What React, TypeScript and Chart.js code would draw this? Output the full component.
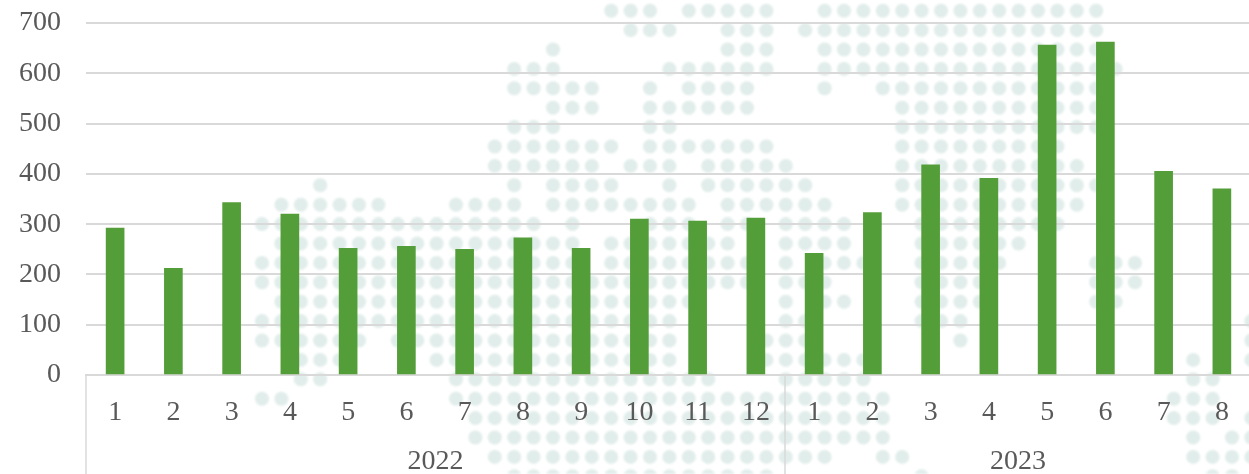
import React, { useEffect, useRef } from "react";
import { Chart, registerables } from "chart.js";

Chart.register(...registerables);

const months = ["1","2","3","4","5","6","7","8","9","10","11","12","1","2","3","4","5","6","7","8"];
const values = [292,212,343,320,252,256,250,273,252,310,306,312,242,323,418,391,656,662,405,370];
const years = ["2022","2023"];
const yearCounts = [12,8];
const yTicks = [0,100,200,300,400,500,600,700];

// Decorative dotted world map: occupied grid columns for each grid row.
const mapRows = [
  "18-20,22-26,29-43",
  "19-21,24-26,28-43",
  "15,24-26,29-43",
  "13-15,21-26,29-44",
  "13-17,20,22-25,29,32-43",
  "15-17,20-25,33-43",
  "13-15,20-21,33-43",
  "12-18,20-26,33-41",
  "12-17,19-21,23-27,33-42",
  "3,13,15-18,21,23-28,33-43",
  "1-6,10-13,15-22,24-29,33-42",
  "0-14,16,20-22,24-25,27-30,34-41",
  "1-16,18-24,27-30,34-39",
  "0-16,18-25,27,29-31,34-38,43-45",
  "0-25,27-29,34-37,43-45",
  "1-22,27,29-30,34-37,43-44",
  "0-21,27-28,34-36,51",
  "0-5,7-21,26-28,36,51",
  "2-4,9-21,26-31,48,51",
  "2-3,10-23,27-31,48-49",
  "0-1,10-32,47-49",
  "11-32,47-49,51",
  "11-32,48,50-51",
  "12-29,32-33,48-51",
  "13-26,34,49-50",
];

const GRID = "#d9d9d9";
const TEXT = "#595959";
const FONT = "'Liberation Serif', 'Times New Roman', serif";
const W = 1251;
const H = 474;

function mapPoints() {
  const pts: { x: number; y: number }[] = [];
  mapRows.forEach((row, r) => {
    row.split(",").forEach((run) => {
      const [a, b] = run.split("-").map(Number);
      for (let c = a; c <= (b === undefined ? a : b); c++) pts.push({ x: c, y: r });
    });
  });
  return pts;
}

const axisGroups = {
  id: "axisGroups",
  afterDraw(chart: any) {
    const { ctx, scales } = chart;
    const x = scales.x;
    const half = (x.getPixelForValue(1) - x.getPixelForValue(0)) / 2;
    const base = scales.y.getPixelForValue(0);
    ctx.save();
    ctx.strokeStyle = GRID;
    ctx.lineWidth = 1.5;
    ctx.fillStyle = TEXT;
    ctx.font = `28px ${FONT}`;
    ctx.textAlign = "center";
    ctx.textBaseline = "middle";
    let start = 0;
    years.forEach((year, i) => {
      const end = start + yearCounts[i] - 1;
      const left = x.getPixelForValue(start) - half;
      ctx.beginPath();
      ctx.moveTo(left, base);
      ctx.lineTo(left, H);
      ctx.stroke();
      ctx.fillText(year, (x.getPixelForValue(start) + x.getPixelForValue(end)) / 2, 462);
      start = end + 1;
    });
    ctx.restore();
  },
};

export default function App() {
  const bgRef = useRef<HTMLCanvasElement>(null);
  const fgRef = useRef<HTMLCanvasElement>(null);

  useEffect(() => {
    const bg = new Chart(bgRef.current!, {
      type: "scatter",
      data: {
        datasets: [{
          data: mapPoints(),
          backgroundColor: "#e0edea",
          borderWidth: 0,
          pointRadius: 7,
          pointHoverRadius: 7,
        }],
      },
      options: {
        animation: false,
        responsive: false,
        events: [],
        layout: { padding: 0, autoPadding: false },
        plugins: { legend: { display: false }, tooltip: { enabled: false } },
        scales: {
          x: { display: false, type: "linear", min: -262 / 19.4, max: (W - 262) / 19.4 },
          y: { display: false, type: "linear", reverse: true, min: -10.7 / 19.4, max: (H - 10.7) / 19.4 },
        },
      },
    });

    const fg = new Chart(fgRef.current!, {
      type: "bar",
      data: {
        labels: months,
        datasets: [{
          data: values,
          backgroundColor: "#549e39",
          borderWidth: 0,
          barThickness: 18,
        }],
      },
      options: {
        animation: false,
        responsive: false,
        events: [],
        layout: { padding: { top: 23, left: 0, right: 0, bottom: 0 }, autoPadding: false },
        plugins: { legend: { display: false }, tooltip: { enabled: false } },
        scales: {
          x: {
            type: "category",
            border: { color: GRID, width: 2 },
            grid: { display: false },
            afterFit: (s: any) => { s.height = H - 375; },
            ticks: {
              color: TEXT,
              font: { family: FONT, size: 28 },
              padding: 13,
              maxRotation: 0,
              autoSkip: false,
            },
          },
          y: {
            type: "linear",
            min: 0,
            max: 700,
            afterBuildTicks: (s: any) => { s.ticks = yTicks.map((value) => ({ value })); },
            afterFit: (s: any) => { s.width = 86; s.paddingTop = 0; s.paddingBottom = 0; },
            border: { display: false },
            grid: { color: GRID, lineWidth: 2, drawTicks: false },
            ticks: {
              color: TEXT,
              font: { family: FONT, size: 28 },
              padding: 25,
            },
          },
        },
      },
      plugins: [axisGroups],
    });

    return () => { bg.destroy(); fg.destroy(); };
  }, []);

  const layer: React.CSSProperties = { position: "absolute", left: 0, top: 0, display: "block" };
  return (
    <div style={{ position: "fixed", left: 0, top: 0, width: 1249, height: H, overflow: "hidden", background: "#ffffff" }}>
      <canvas ref={bgRef} width={W} height={H} style={{ ...layer, filter: "blur(0.8px)" }} />
      <canvas ref={fgRef} width={W} height={H} style={layer} />
    </div>
  );
}
